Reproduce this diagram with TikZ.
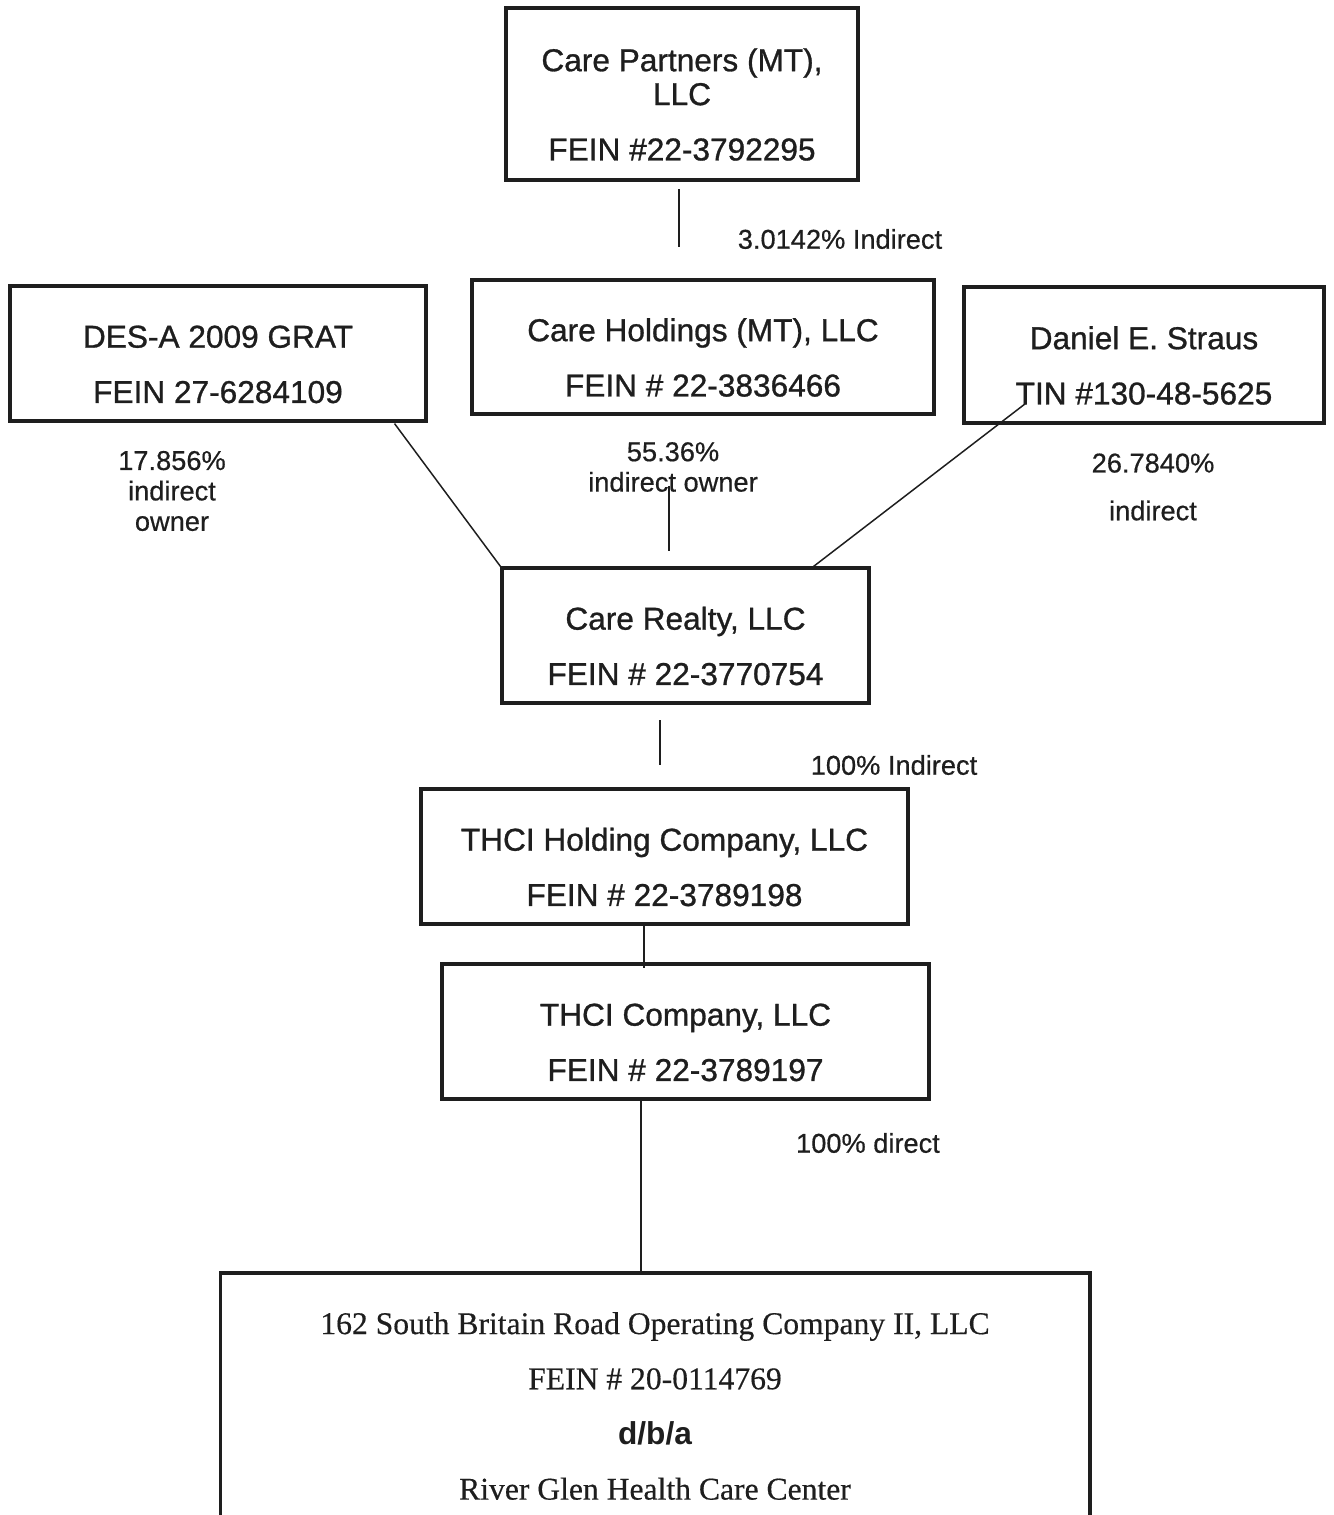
\documentclass[tikz,border=0pt]{standalone}
\usepackage{fontspec}
\setmainfont{Liberation Sans}
\newfontfamily\orgsans{Liberation Sans}
\newfontfamily\orgbox[FakeBold=0.9]{Liberation Sans}
\newfontfamily\orglabel[FakeBold=0.5]{Liberation Sans}
\newfontfamily\orgserif[FakeBold=0.4]{Liberation Serif}
\usetikzlibrary{calc}
\definecolor{ink}{RGB}{30,30,30}
\newcommand{\boxlift}{\rule{0pt}{25pt}}

\begin{document}
\begin{tikzpicture}[x=0.02cm, y=-0.02cm, ink,
  entity/.style={draw=ink, line width=1.8pt, inner sep=0pt, align=center,
    font=\fontsize{18}{31.5}\selectfont\orgbox},
  share/.style={align=center, font=\fontsize{15.5}{17.3}\selectfont\orglabel},
  link/.style={draw=ink, line width=1.1pt},
  slant/.style={draw=ink, line width=0.85pt}]
\useasboundingbox (0,0) rectangle (1333,1515);
\clip (0,0) rectangle (1333,1515);

\node[entity, minimum width=7.04cm, minimum height=3.44cm] (cp) at (682,94)
  {\boxlift Care Partners (MT),\\[-12.2pt] LLC\\ FEIN \#22-3792295};
\node[entity, minimum width=8.32cm, minimum height=2.7cm] (des) at (218,353.5)
  {\boxlift DES-A 2009 GRAT\\ FEIN 27-6284109};
\node[entity, minimum width=9.24cm, minimum height=2.68cm] (ch) at (703,347)
  {\boxlift Care Holdings (MT), LLC\\ FEIN \# 22-3836466};
\node[entity, minimum width=7.2cm, minimum height=2.72cm] (ds) at (1144,355)
  {\boxlift Daniel E. Straus\\ TIN \#130-48-5625};
\node[entity, minimum width=7.34cm, minimum height=2.7cm] (cr) at (685.5,635.5)
  {\boxlift Care Realty, LLC\\ FEIN \# 22-3770754};
\node[entity, minimum width=9.74cm, minimum height=2.7cm] (thh) at (664.5,856.5)
  {\boxlift THCI Holding Company, LLC\\ FEIN \# 22-3789198};
\node[entity, minimum width=9.74cm, minimum height=2.7cm] (thc) at (685.5,1031.5)
  {\boxlift THCI Company, LLC\\ FEIN \# 22-3789197};
\node[entity, minimum width=17.4cm, minimum height=5.32cm,
  font=\fontsize{18}{31.4}\selectfont\orgserif] (op) at (655,1406)
  {162 South Britain Road Operating Company II, LLC\\ FEIN \# 20-0114769\\
   {\orgsans\bfseries d/b/a}\\ River Glen Health Care Center};

\node[share] (l1) at (840,239) {3.0142\% Indirect};
\node[share] (l2) at (172,491) {17.856\%\\indirect\\owner};
\node[share] (l3) at (673,467) {55.36\%\\indirect owner};
\node[share, font=\fontsize{15.5}{27.2}\selectfont\orglabel] (l4) at (1153,487) {26.7840\%\\indirect};
\node[share] (l5) at (894,765) {100\% Indirect};
\node[share] (l6) at (868,1143) {100\% direct};

\coordinate (cpx) at (679,0);
\coordinate (chx) at (669,0);
\coordinate (crx) at (660,0);
\coordinate (thx) at (644,0);
\coordinate (opx) at (641,0);

\draw[link, shorten <=4.5pt, shorten >=18pt] (cp.south -| cpx) -- (ch.north -| cpx);
\draw[slant] ($(des.south east)+(-33,1)$) -- (cr.north west);
\draw[link, shorten <=40pt, shorten >=9pt] (ch.south -| chx) -- (cr.north -| chx);
\draw[slant] ($(ds.south west)+(63,-21)$) -- ($(cr.north east)+(-57,0)$);
\draw[link, shorten <=9pt, shorten >=12.5pt] (cr.south -| crx) -- (thh.north -| crx);
\draw[link] (thh.south -| thx) -- ($(thc.north -| thx)+(0,6)$);
\draw[link] (thc.south -| opx) -- (op.north -| opx);
\end{tikzpicture}
\end{document}
